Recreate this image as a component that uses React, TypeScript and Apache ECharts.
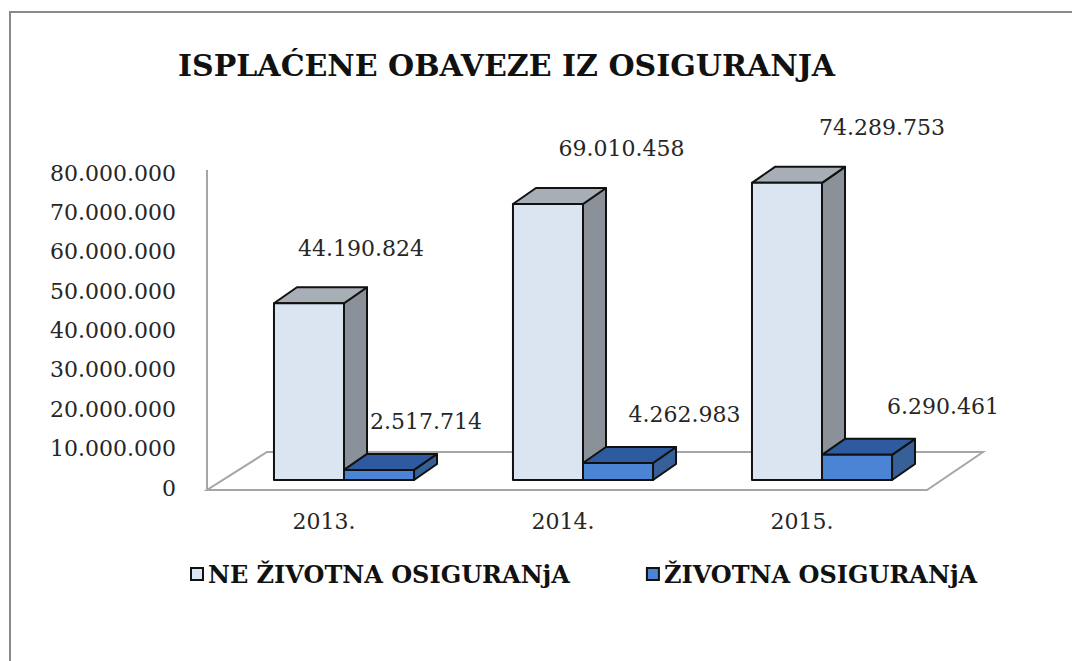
import React, { useEffect, useRef } from "react";
import * as echarts from "echarts";

const categories = ["2013.", "2014.", "2015."];
const neZivotna = [44190824, 69010458, 74289753];
const zivotna = [2517714, 4262983, 6290461];
const seriesNames = ["NE ŽIVOTNA OSIGURANjA", "ŽIVOTNA OSIGURANjA"];
const titleText = "ISPLAĆENE OBAVEZE IZ OSIGURANJA";
const yMin = 0;
const yMax = 80000000;
const yInterval = 10000000;

const fmt = (v: number) => String(Math.round(v)).replace(/\B(?=(\d{3})+(?!\d))/g, ".");

const SERIF = "DejaVu Serif";

type Palette = { front: string; top: string; side: string };
const lightPal: Palette = { front: "#dbe5f1", top: "#a8aeb6", side: "#8b9199" };
const bluePal: Palette = { front: "#4b84d4", top: "#2e5aa0", side: "#375f98" };

function makeRender(which: number, pal: Palette) {
  return (params: any, api: any) => {
    const idx = api.value(0);
    const val = api.value(1);
    const top = api.coord([idx, val]);
    const base = api.coord([idx, 0]);
    const band = api.size([1, 0])[0];
    const w = band * 0.293;
    const x0 = which === 0 ? top[0] - w : top[0];
    const x1 = x0 + w;
    const yT = top[1];
    const yB = base[1];
    const dx = 23;
    const dy = -16;
    const stroke = { stroke: "#111", lineWidth: 2, lineJoin: "round" };
    const labelX = which === 0 ? x0 + w / 2 + 52 + 21.5 * idx : x0 + w / 2 + 47 + 19.5 * idx;
    const labelY = which === 0 ? yT - 55 : yT - 48;
    return {
      type: "group",
      children: [
        {
          type: "polygon",
          shape: { points: [[x1, yT], [x1 + dx, yT + dy], [x1 + dx, yB + dy], [x1, yB]] },
          style: { fill: pal.side, ...stroke },
        },
        {
          type: "polygon",
          shape: { points: [[x0, yT], [x1, yT], [x1 + dx, yT + dy], [x0 + dx, yT + dy]] },
          style: { fill: pal.top, ...stroke },
        },
        {
          type: "rect",
          shape: { x: x0, y: yT, width: w, height: yB - yT },
          style: { fill: pal.front, ...stroke },
        },
        {
          type: "text",
          style: {
            text: fmt(val),
            x: labelX,
            y: labelY,
            align: "center",
            verticalAlign: "middle",
            fontFamily: SERIF,
            fontSize: 22,
            fill: "#262626",
          },
        },
      ],
    };
  };
}

export default function App() {
  const ref = useRef<HTMLDivElement>(null);
  useEffect(() => {
    if (!ref.current) return;
    const chart = echarts.init(ref.current, undefined, { renderer: "svg" });
    const option: any = {
      animation: false,
      backgroundColor: "#ffffff",
      title: {
        text: titleText,
        left: 178,
        top: 50,
        padding: 0,
        textStyle: { fontFamily: SERIF, fontWeight: "bold", fontSize: 30, color: "#111" },
      },
      legend: {
        data: seriesNames,
        left: 190,
        top: 562,
        padding: 0,
        itemWidth: 12,
        itemHeight: 12,
        itemGap: 76,
        icon: "rect",
        textStyle: { fontFamily: SERIF, fontWeight: "bold", fontSize: 24, color: "#111" },
      },
      graphic: [
        {
          type: "polyline",
          z: 0,
          shape: { points: [[10, 661], [10, 12], [1072, 12]] },
          style: { fill: "none", stroke: "#8a8a8a", lineWidth: 2 },
        },
        {
          type: "line",
          z: 0,
          shape: { x1: 207, y1: 170, x2: 207, y2: 490 },
          style: { stroke: "#a6a6a6", lineWidth: 2 },
        },
        {
          type: "polygon",
          z: 0,
          shape: { points: [[207, 490], [927, 490], [983, 452], [267, 452]] },
          style: { fill: "none", stroke: "#a6a6a6", lineWidth: 2 },
        },
      ],
      grid: [
        { left: 224.5, right: 130.5, top: 160, bottom: 181 },
        { left: 184, width: 20, top: 173, bottom: 173 },
      ],
      xAxis: [
        {
          type: "category",
          gridIndex: 0,
          data: categories,
          axisLine: { show: false },
          axisTick: { show: false },
          axisLabel: {
            margin: 30,
            fontFamily: SERIF,
            fontSize: 22,
            color: "#262626",
            padding: [0, 40, 0, 0],
          },
        },
        { type: "category", gridIndex: 1, data: categories, show: false },
      ],
      yAxis: [
        { type: "value", gridIndex: 0, min: yMin, max: yMax, interval: yInterval, show: false },
        {
          type: "value",
          gridIndex: 1,
          min: yMin,
          max: yMax,
          interval: yInterval,
          axisLine: { show: false },
          axisTick: { show: false },
          splitLine: { show: false },
          axisLabel: {
            margin: 8,
            fontFamily: SERIF,
            fontSize: 22,
            color: "#262626",
            formatter: (v: number) => fmt(v),
          },
        },
      ],
      series: [
        {
          name: seriesNames[0],
          type: "custom",
          xAxisIndex: 0,
          yAxisIndex: 0,
          clip: false,
          z: 2,
          itemStyle: { color: lightPal.front, borderColor: "#111", borderWidth: 1 },
          encode: { x: 0, y: 1 },
          data: neZivotna.map((v, i) => [i, v]),
          renderItem: makeRender(0, lightPal),
        },
        {
          name: seriesNames[1],
          type: "custom",
          xAxisIndex: 0,
          yAxisIndex: 0,
          clip: false,
          z: 3,
          itemStyle: { color: bluePal.front, borderColor: "#111", borderWidth: 1 },
          encode: { x: 0, y: 1 },
          data: zivotna.map((v, i) => [i, v]),
          renderItem: makeRender(1, bluePal),
        },
      ],
    };
    chart.setOption(option);
    return () => chart.dispose();
  }, []);
  return (
    <div
      ref={ref}
      style={{ position: "fixed", left: 0, top: 0, width: 1072, height: 661, background: "#fff" }}
    />
  );
}
